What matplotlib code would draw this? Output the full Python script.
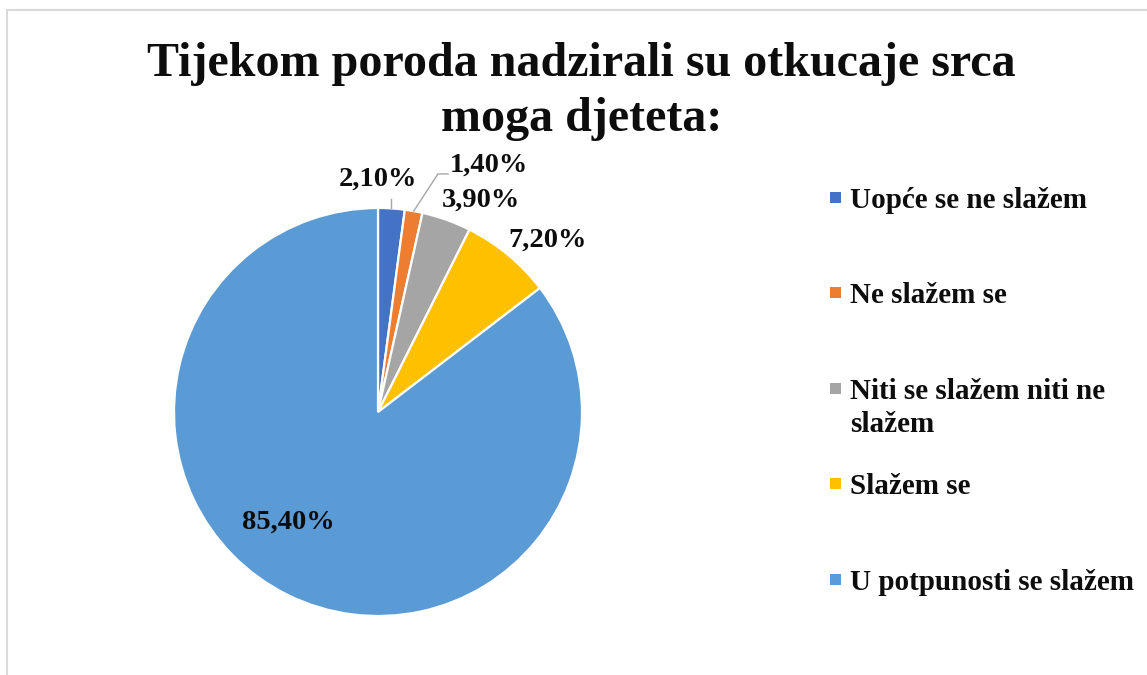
import matplotlib
matplotlib.use('Agg')
import matplotlib.pyplot as plt
from matplotlib.patches import Rectangle
import numpy as np

plt.rcParams['font.family'] = ['Liberation Serif', 'DejaVu Serif']

# data
categories = ['Uopće se ne slažem', 'Ne slažem se', 'Niti se slažem niti ne\nslažem',
              'Slažem se', 'U potpunosti se slažem']
values = [2.1, 1.4, 3.9, 7.2, 85.4]
colors = ['#4472C4', '#ED7D31', '#A5A5A5', '#FFC000', '#5B9BD5']
title_lines = ['Tijekom poroda nadzirali su otkucaje srca', 'moga djeteta:']

# label positions in pie units (radius = 1), layout only
label_pos = [(0.0, 1.142), (0.544, 1.211), (0.505, 1.039), (0.833, 0.843), (-0.441, -0.539)]

W, H = 1147, 675
fig = plt.figure(figsize=(W / 100, H / 100), dpi=100)

# light frame of the chart area (left and top visible)
fig.add_artist(Rectangle((6.5 / W, -0.1), 1.2, (H - 10.5) / H + 0.1, transform=fig.transFigure,
                         fill=False, edgecolor='#d9d9d9', linewidth=1.5))

cx, cy, r = 378, 412, 204
ax = fig.add_axes([(cx - r) / W, (H - cy - r) / H, 2 * r / W, 2 * r / H])
wedges, _ = ax.pie(values, colors=colors, startangle=90, counterclock=False, radius=1,
                   wedgeprops=dict(edgecolor='white', linewidth=1.6))
ax.set_xlim(-1, 1)
ax.set_ylim(-1, 1)
ax.set_aspect('equal')
ax.axis('off')

for v, (lx, ly) in zip(values, label_pos):
    ax.text(lx, ly, f'{v:.2f}'.replace('.', ',') + '%', ha='center', va='center',
            fontsize=20.5, fontweight='bold', color='#0d0d0d', clip_on=False)

# leader lines for the two smallest slices
cum = np.cumsum([0] + values[:-1])
mid = [90 - (c + v / 2) * 3.6 for c, v in zip(cum, values)]
a0 = np.radians(mid[0])
ax.plot([np.cos(a0), np.cos(a0)], [1.0, 1.045], color='#a6a6a6', lw=1, clip_on=False)
a1 = np.radians(mid[1])
ax.plot([np.cos(a1), 0.294, 0.343], [np.sin(a1), 1.167, 1.167], color='#a6a6a6', lw=1, clip_on=False)

for line, base in zip(title_lines, [76, 131]):
    fig.text(0.507, 1 - base / H, line, ha='center', va='baseline', fontsize=34.6,
             fontweight='bold', color='#0d0d0d')

# legend drawn by hand so the wrapped entry keeps its marker on the first line
leg_base = [208, 303, 399, 494, 590]
for lab, c, y in zip(categories, colors, leg_base):
    fig.add_artist(Rectangle((830 / W, (H - y + 5) / H), 11 / W, 11 / H,
                             transform=fig.transFigure, facecolor=c, edgecolor='none'))
    for k, part in enumerate(lab.split('\n')):
        fig.text(850 / W, (H - y - 33 * k) / H, part, ha='left', va='baseline',
                 fontsize=21, fontweight='bold', color='#0d0d0d')

fig.savefig('out.png', dpi=100)
